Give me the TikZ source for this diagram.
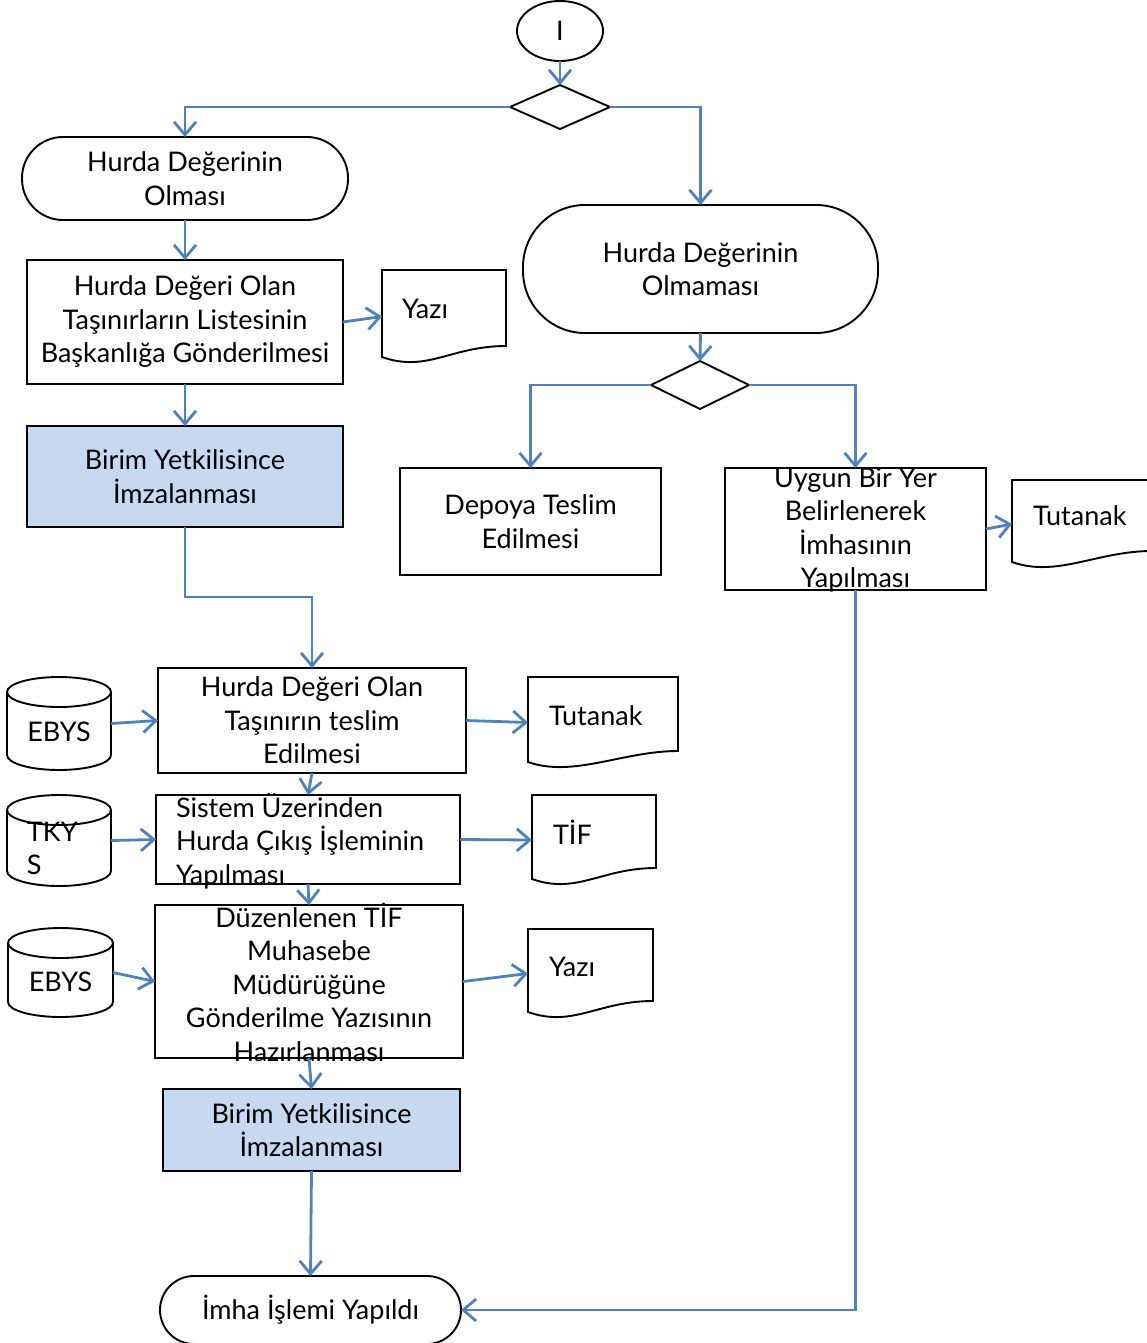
\documentclass[tikz,border=0pt]{standalone}
\usepackage{fontspec}
\setmainfont{Lato}
\usetikzlibrary{shapes.geometric,arrows.meta,calc}
\definecolor{lnblue}{HTML}{4F81BD}
\definecolor{fillblue}{HTML}{C6D9F1}
\tikzset{
  base/.style={font=\fontsize{27}{33.5}\selectfont, inner sep=0pt, outer sep=0pt},
  blk/.style={draw=black, line width=1.9pt},
  box/.style={base, rectangle, blk, align=center},
  bluebox/.style={box, fill=fillblue},
  startell/.style={base, ellipse, blk, minimum width=86, minimum height=60},
  dec/.style={base, diamond, blk},
  holder/.style={base, rectangle, draw=none},
  doctext/.style={base, anchor=west},
  conn/.style={draw=lnblue, line width=2.8pt, line join=miter, -{Straight Barb[length=13pt,width=22pt]}}
}
\newcommand\docoutline[1]{%
  \draw[blk] (#1.north west) -- (#1.north east) -- ([yshift=17pt]#1.south east)
    .. controls +(-55pt,0pt) and +(45pt,-16pt) .. ([yshift=6pt]#1.south west) -- cycle;}
\newcommand\cyloutline[2]{%
  \draw[blk] ([yshift=-15pt]#1.north west) -- ([yshift=15pt]#1.south west)
    arc[start angle=180, end angle=360, x radius=#2pt, y radius=15pt]
    -- ([yshift=-15pt]#1.north east);
  \draw[blk] ([yshift=-15pt]#1.north) ellipse[x radius=#2pt, y radius=15pt];}
\begin{document}
\begin{tikzpicture}[x=1pt,y=1pt]
\useasboundingbox (0,0) rectangle (1146,-1343);

% top
\node[startell] (st) at (560,-31) {I};
\node[dec, minimum width=100, minimum height=44] (d1) at (560,-107) {};
\node[box, rounded corners=41, minimum width=326, minimum height=83] (hO) at (185,-178.5) {Hurda Değerinin\\Olması};
\node[box, rounded corners=62, minimum width=355, minimum height=128] (hOm) at (700.5,-269) {Hurda Değerinin\\Olmaması};

% left upper column
\node[box, minimum width=316, minimum height=124] (b1) at (185,-322) {Hurda Değeri Olan\\Taşınırların Listesinin\\Başkanlığa Gönderilmesi};
\node[holder, minimum width=124, minimum height=93] (yz1) at (444,-316.5) {};
\docoutline{yz1}
\node[doctext] at ([shift={(20,8)}]yz1.west) {Yazı};
\node[bluebox, minimum width=316, minimum height=101] (bl1) at (185,-476.5) {Birim Yetkilisince\\İmzalanması};

% right column
\node[dec, minimum width=98, minimum height=48] (d2) at (700,-385) {};
\node[box, minimum width=261, minimum height=107] (dep) at (530.5,-521.5) {Depoya Teslim\\Edilmesi};
\node[box, minimum width=261, minimum height=122] (uy) at (855.5,-529) {};
\node[base, align=center] (uyT) at (855.5,-530) {Uygun Bir Yer\\Belirlenerek\\İmhasının\\Yapılması};
\node[holder, minimum width=140, minimum height=88] (tt1) at (1082,-524) {};
\docoutline{tt1}
\node[doctext] at ([shift={(21,8)}]tt1.west) {Tutanak};

% left lower column
\node[box, minimum width=308, minimum height=105] (t1) at (312,-720.5) {Hurda Değeri Olan\\Taşınırın teslim\\Edilmesi};
\node[holder, minimum width=104, minimum height=93] (eb1) at (59,-723.5) {};
\cyloutline{eb1}{52}
\node[base] at ([yshift=-8]eb1.center) {EBYS};
\node[holder, minimum width=150, minimum height=91] (tt2) at (603,-722.5) {};
\docoutline{tt2}
\node[doctext] at ([shift={(21,6.5)}]tt2.west) {Tutanak};

\node[box, minimum width=304, minimum height=89] (t2) at (308,-839.5) {};
\node[base, align=left, anchor=west] (t2T) at (176,-841) {Sistem Üzerinden\\Hurda Çıkış İşleminin\\Yapılması};
\node[holder, minimum width=104, minimum height=91] (tk) at (59,-840.5) {};
\cyloutline{tk}{52}
\node[base, align=left, anchor=west] at (27,-848.5) {TKY\\S};
\node[holder, minimum width=124, minimum height=90] (tif) at (594,-840) {};
\docoutline{tif}
\node[doctext] at ([shift={(21,8)}]tif.west) {TİF};

\node[box, minimum width=308, minimum height=153] (t3) at (309,-981.5) {};
\node[base, align=center] (t3T) at (309,-982) {Düzenlenen TİF\\Muhasebe\\Müdürüğüne\\Gönderilme Yazısının\\Hazırlanması};
\node[holder, minimum width=105, minimum height=89] (eb2) at (60.5,-972.5) {};
\cyloutline{eb2}{52.5}
\node[base] at ([yshift=-9.5]eb2.center) {EBYS};
\node[holder, minimum width=125, minimum height=89] (yz2) at (590.5,-973.5) {};
\docoutline{yz2}
\node[doctext] at ([shift={(21,6.5)}]yz2.west) {Yazı};

\node[bluebox, minimum width=297, minimum height=82] (bl2) at (311.5,-1130) {Birim Yetkilisince\\İmzalanması};
\node[box, rounded corners=34, minimum width=301, minimum height=68] (fin) at (310.5,-1310) {İmha İşlemi Yapıldı};

% connectors
\draw[conn] (st.south) -- (d1.north);
\draw[conn] (d1.west) -| (hO.north);
\draw[conn] (d1.east) -| (hOm.north);
\draw[conn] (hO.south) -- (b1.north);
\draw[conn] (b1.east) -- (yz1.west);
\draw[conn] (b1.south) -- (bl1.north);
\draw[conn] (bl1.south) -- ++(0,-70) -| (t1.north);
\draw[conn] (hOm.south) -- (d2.north);
\draw[conn] (d2.west) -| (dep.north);
\draw[conn] (d2.east) -| (uy.north);
\draw[conn] (uy.east) -- (tt1.west);
\draw[conn] (uy.south) |- (fin.east);
\draw[conn] (eb1.east) -- (t1.west);
\draw[conn] (t1.east) -- (tt2.west);
\draw[conn] (t1.south) -- (t2.north);
\draw[conn] (tk.east) -- (t2.west);
\draw[conn] (t2.east) -- (tif.west);
\draw[conn] (t2.south) -- (t3.north);
\draw[conn] (eb2.east) -- (t3.west);
\draw[conn] (t3.east) -- (yz2.west);
\draw[conn] (t3.south) -- (bl2.north);
\draw[conn] (bl2.south) -- (fin.north);
\end{tikzpicture}
\end{document}
